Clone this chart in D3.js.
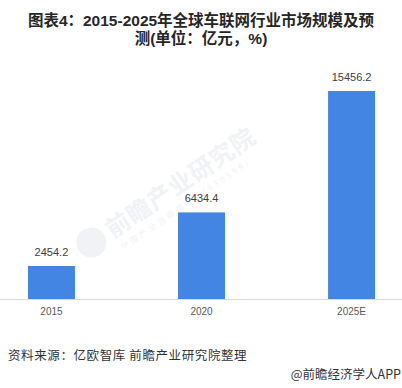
<!DOCTYPE html>
<html>
<head>
<meta charset="utf-8">
<script src="https://cdn.jsdelivr.net/npm/d3@7"></script>
<style>
  body { margin: 0; background: #fff; }
  svg { display: block; font-family: "Liberation Sans", Arial, "Noto Sans CJK SC", sans-serif; }
</style>
</head>
<body>
<div id="chart-area"></div>
<script>

// data
let years = ["2015", "2020", "2025E"];
let values = [2454.2, 6434.4, 15456.2];

let titleLines = ["图表4：2015-2025年全球车联网行业市场规模及预", "测(单位：亿元，%)"];
let sourceText = "资料来源：亿欧智库 前瞻产业研究院整理";
let brandText = "@前瞻经济学人APP";

// drawing area
let W = 402, H = 388;
let baseY = 299, topY = 91;

let svg = d3.select("#chart-area").append("svg")
	.attr("width", W)
	.attr("height", H);

svg.append("rect")
	.attr("width", W)
	.attr("height", H)
	.attr("fill", "#fff");

// faint watermark
let wm = svg.append("g")
	.attr("transform", "translate(98,238) rotate(-34)")
	.attr("fill", "#f0f2f5");
wm.append("circle")
	.attr("cx", -8).attr("cy", 0).attr("r", 15);
wm.append("text")
	.attr("x", 12).attr("y", 9)
	.attr("font-family", "Noto Sans CJK SC")
	.attr("font-weight", "bold")
	.attr("font-size", 24)
	.attr("letter-spacing", 1)
	.text("前瞻产业研究院");
wm.append("text")
	.attr("x", 14).attr("y", 24)
	.attr("font-family", "Noto Sans CJK SC")
	.attr("font-size", 8)
	.attr("letter-spacing", 3)
	.text("中国产业咨询领导者(839599)");

// title
svg.selectAll(".title")
	.data(titleLines)
	.enter()
	.append("text")
	.attr("class", "title")
	.attr("x", W / 2)
	.attr("y", (d, i) => 25.5 + i * 18)
	.attr("text-anchor", "middle")
	.attr("font-family", "Liberation Sans, Noto Sans CJK SC, sans-serif")
	.attr("font-weight", "bold")
	.attr("font-size", 15.5)
	.attr("fill", "#262626")
	.text(d => d);

// scales
let x = d3.scaleBand()
	.domain(years)
	.range([0.5, 402.5])
	.paddingInner(0.687)
	.paddingOuter(0.183);

let y = d3.scaleLinear()
	.domain([0, d3.max(values)])
	.range([baseY, topY]);

let data = years.map((d, i) => ({year: d, value: values[i]}));

// bars
svg.selectAll(".bar")
	.data(data)
	.enter()
	.append("rect")
	.attr("class", "bar")
	.attr("x", d => x(d.year))
	.attr("y", d => y(d.value))
	.attr("width", x.bandwidth())
	.attr("height", d => baseY - y(d.value))
	.attr("fill", "#4285e2");

// value labels
svg.selectAll(".val")
	.data(data)
	.enter()
	.append("text")
	.attr("class", "val")
	.attr("x", d => x(d.year) + x.bandwidth() / 2)
	.attr("y", d => y(d.value) - 10)
	.attr("text-anchor", "middle")
	.attr("font-size", 11)
	.attr("fill", "#404040")
	.text(d => d.value.toFixed(1));

// x axis
let xAxis = d3.axisBottom(x).tickSize(0).tickPadding(9);
let xAxisGroup = svg.append("g")
	.attr("class", "x-axis")
	.attr("transform", "translate(0," + baseY + ")")
	.call(xAxis);
xAxisGroup.select(".domain")
	.attr("d", "M0,0.5H" + W)
	.attr("stroke", "#d9d9d9");
xAxisGroup.selectAll("text")
	.attr("font-family", "Liberation Sans, Arial, sans-serif")
	.attr("font-size", 10)
	.attr("fill", "#595959");

// source & brand
svg.append("text")
	.attr("x", 8)
	.attr("y", 360)
	.attr("font-family", "Noto Sans CJK SC")
	.attr("font-size", 12.5)
	.attr("letter-spacing", 0.6)
	.attr("fill", "#333")
	.text(sourceText);

svg.append("text")
	.attr("x", 401)
	.attr("y", 379)
	.attr("text-anchor", "end")
	.attr("font-family", "Noto Sans CJK SC")
	.attr("font-size", 12.5)
	.attr("fill", "#333")
	.text(brandText);

</script>
</body>
</html>
